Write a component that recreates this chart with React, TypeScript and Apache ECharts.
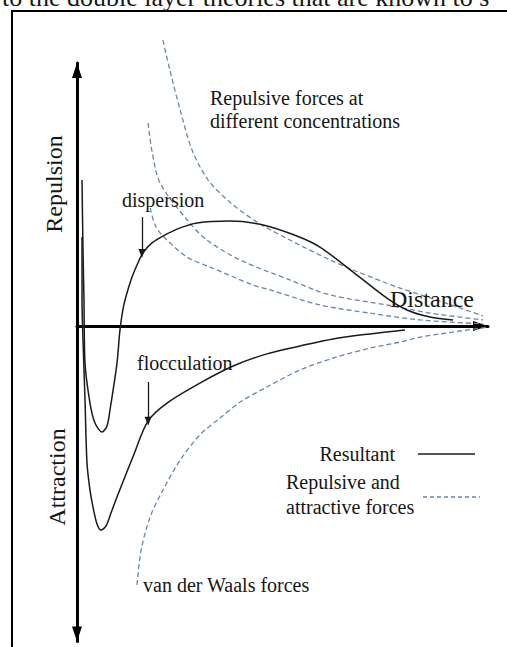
import React, { useEffect, useRef } from "react";
import * as echarts from "echarts";

// Conceptual potential-energy curves: x = separation distance (0..100), y = energy (+ repulsion, - attraction)
const resultantDispersion: number[][] = [
  [1.22, 55.5], [1.46, 28.9], [1.7, 9.9], [1.95, -14.1], [3.16, -29.3], [4.38, -36.9], [6.08, -40.3],
  [7.3, -38.0], [8.03, -31.9], [9.73, -14.1], [10.46, -1.5], [11.4, 8.0], [13.14, 17.5], [14.6, 23.2],
  [16.06, 27.8], [18.25, 31.6], [20.9, 34.2], [25.1, 37.3], [29.2, 39.2], [37.2, 39.9], [45.3, 38.4],
  [53.5, 34.2], [59.1, 30.0], [67.2, 20.5], [75.4, 10.6], [80.3, 6.1], [85.9, 3.4], [91.5, 2.3],
];
const resultantFlocculation: number[][] = [
  [1.22, 33.8], [1.22, 9.9], [1.46, -5.3], [1.95, -28.1], [2.43, -52.1], [3.16, -62.4], [3.89, -68.8],
  [4.87, -75.3], [5.84, -77.6], [7.06, -76.0], [8.27, -71.1], [9.73, -65.0], [13.6, -49.8], [17.3, -36.1],
  [21.9, -29.3], [29.9, -21.7], [38.0, -15.2], [46.2, -10.6], [54.3, -7.6], [62.3, -4.9], [71.3, -3.0],
  [79.8, -1.5],
];
const repulsiveHigh: number[][] = [
  [20.9, 108.7], [22.6, 97.3], [25.1, 82.1], [28.0, 66.9], [31.9, 55.5], [37.2, 47.1], [43.8, 39.5],
  [51.8, 32.7], [61.6, 25.1], [67.2, 21.3], [77.9, 14.8], [88.3, 9.5], [98.8, 3.8],
];
const repulsiveMid: number[][] = [
  [17.3, 77.2], [18.2, 66.9], [20.2, 54.4], [26.8, 40.3], [31.6, 32.7], [39.7, 25.1], [51.8, 17.5],
  [61.6, 11.8], [75.4, 8.0], [85.9, 4.9], [98.8, 2.3],
];
const repulsiveLow: number[][] = [
  [17.8, 44.9], [19.0, 38.4], [20.9, 34.2], [26.8, 26.2], [32.4, 22.4], [42.8, 15.6], [47.0, 13.7],
  [59.1, 8.0], [71.3, 4.9], [83.5, 2.3], [98.8, 0.8],
];
const vanDerWaals: number[][] = [
  [14.6, -98.5], [15.6, -85.2], [17.8, -72.6], [20.9, -62.4], [25.1, -51.0], [29.9, -41.4], [34.8, -35.0],
  [39.7, -28.9], [46.2, -23.2], [54.3, -16.7], [62.3, -12.2], [71.3, -8.4], [78.6, -6.1], [83.5, -4.2],
  [91.5, -2.3], [100, -0.4],
];
// annotation arrows (data coords): [from, to]
const dispersionArrow: number[][] = [[15.8, 41.4], [15.8, 27.6]];
const flocculationArrow: number[][] = [[17.3, -21.3], [17.3, -36.2]];

const SERIF = "Liberation Serif";
const DASH_COLOR = "#6a87a7";
const LINE_COLOR = "#1a1a1a";

export default function App() {
  const ref = useRef<HTMLDivElement>(null);
  useEffect(() => {
    const chart = echarts.init(ref.current as HTMLDivElement, null, { renderer: "svg" });
    const solid = (name: string, data: number[][], extra: any = {}) => ({
      type: "line", name, data, symbol: "none", smooth: 0.3, clip: false, silent: true,
      lineStyle: { color: LINE_COLOR, width: 1.5 }, z: 3, ...extra,
    });
    const dashed = (name: string, data: number[][]) => ({
      type: "line", name, data, symbol: "none", smooth: 0.3, clip: false, silent: true,
      lineStyle: { color: DASH_COLOR, width: 1.3, type: [5, 3] }, z: 2,
    });
    const arrowLine = (pts: number[][]) => [
      { coord: pts[0], symbol: "none" },
      { coord: pts[1], symbol: "triangle", symbolSize: [7, 9], symbolRotate: 180 },
    ];
    const txt = (text: string, x: number, y: number, size: number, align = "left", rotation = 0) => ({
      type: "text", x, y, rotation, silent: true, z: 10,
      style: { text, fill: "#161616", fontSize: size, fontFamily: SERIF, align, verticalAlign: "middle" },
    });
    chart.setOption({
      animation: false,
      backgroundColor: "#ffffff",
      grid: { left: 77, right: 19, top: 63, height: 578.6, outerBoundsMode: "none" },
      xAxis: {
        type: "value", min: 0, max: 100,
        axisLine: { show: true, onZero: true, symbol: ["none", "triangle"], symbolSize: [10, 15], symbolOffset: [0, -7.5],
          lineStyle: { color: "#000", width: 3 } },
        axisTick: { show: false }, axisLabel: { show: false }, splitLine: { show: false },
      },
      yAxis: {
        type: "value", min: -120, max: 100,
        axisLine: { show: true, onZero: true, symbol: ["triangle", "triangle"], symbolSize: [10, 15], symbolOffset: [7.5, -7.5],
          lineStyle: { color: "#000", width: 3 } },
        axisTick: { show: false }, axisLabel: { show: false }, splitLine: { show: false },
      },
      series: [
        dashed("Repulsive (low concentration)", repulsiveHigh),
        dashed("Repulsive (medium concentration)", repulsiveMid),
        dashed("Repulsive (high concentration)", repulsiveLow),
        dashed("van der Waals forces", vanDerWaals),
        solid("Resultant (dispersion)", resultantDispersion, {
          markLine: {
            silent: true, animation: false, label: { show: false },
            lineStyle: { color: LINE_COLOR, width: 1.3, type: "solid" },
            data: [arrowLine(dispersionArrow), arrowLine(flocculationArrow)],
          },
        }),
        solid("Resultant (flocculation)", resultantFlocculation),
      ],
      graphic: [
        { type: "rect", shape: { x: 12, y: 11, width: 700, height: 800 }, style: { fill: "none", stroke: "#000", lineWidth: 2 }, silent: true, z: 0 },
        txt("to the double layer theories that are known to s", 2, -2.8, 26),
        txt("Repulsive forces at", 210, 98.4, 20),
        txt("different concentrations", 210, 121.4, 20),
        txt("dispersion", 122, 200.4, 20),
        txt("flocculation", 137, 363.4, 20),
        txt("van der Waals forces", 143, 585.4, 20),
        txt("Distance", 390, 298.9, 24),
        txt("Repulsion", 54, 184, 24, "center", Math.PI / 2),
        txt("Attraction", 57, 477, 24, "center", Math.PI / 2),
        txt("Resultant", 395, 454.4, 20, "right"),
        txt("Repulsive and", 286, 482.4, 20),
        txt("attractive forces", 286, 507.4, 20),
        { type: "line", shape: { x1: 418, y1: 454, x2: 475, y2: 454 }, style: { stroke: LINE_COLOR, lineWidth: 1.4 }, silent: true },
        { type: "line", shape: { x1: 423, y1: 497, x2: 480, y2: 497 }, style: { stroke: DASH_COLOR, lineWidth: 1.3, lineDash: [4, 3] }, silent: true },
      ],
    });
    return () => chart.dispose();
  }, []);
  return (
    <div
      ref={ref}
      style={{ position: "fixed", left: 0, top: 0, width: 507, height: 647, background: "#fff" }}
    />
  );
}
